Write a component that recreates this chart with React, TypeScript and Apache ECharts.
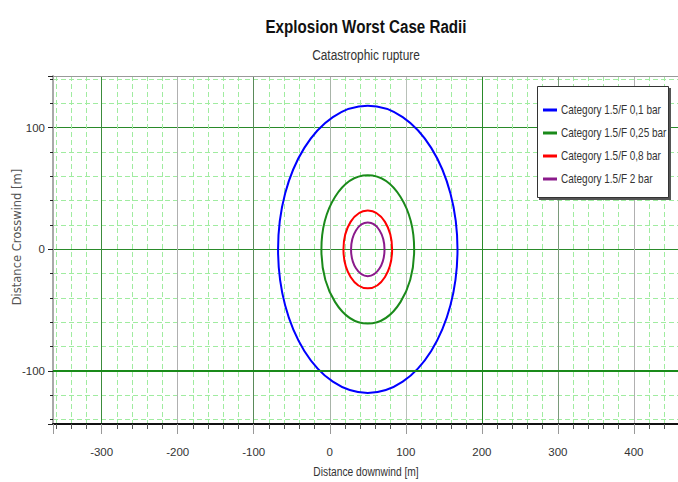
import React, { useEffect, useRef } from 'react';
import * as echarts from 'echarts';

// ---- data ----
const seriesNames = [
  'Category 1.5/F 0,1 bar',
  'Category 1.5/F 0,25 bar',
  'Category 1.5/F 0,8 bar',
  'Category 1.5/F 2 bar',
];
const centerX = [50, 50, 50, 50];
const centerY = [0, 0, 0, 0];
const radii = [118, 61, 32, 22];
const xTickLabels = [-300, -200, -100, 0, 100, 200, 300, 400];
const yTickLabels = [-100, 0, 100];
const xRange = [-364, 458];
const yRange = [-143.5, 142.5];

// ---- styles ----
const COLORS = ['#0000ff', '#1a8a1a', '#ff0000', '#8b1a8b'];
const SANS = "'Liberation Sans', Arial, sans-serif";
const NARROW_SCALE = 0.82;
const T = 'rgba(0,0,0,0)';
const MAJOR_X_COLORS = [T, '#3c8c3c', '#b0b0b0', '#5a8a5a', '#a8b4a8', '#b8c0b8', '#2a8a2a', '#7a9a7a', '#b0b0b0', T];
const MAJOR_Y_COLORS = [T, '#2a8a2a', '#2a8a2a', '#2a8a2a', T];
const MINOR_COLOR = '#a0eca0';

const fmt = (list: number[]) => (v: number) => {
  const r = Math.round(v);
  return Math.abs(v - r) < 1e-6 && list.includes(r) ? String(r) : '';
};

export default function App() {
  const ref = useRef<HTMLDivElement>(null);
  useEffect(() => {
    if (!ref.current) return;
    const chart = echarts.init(ref.current, null, { renderer: 'svg' });

    const circleSeries = seriesNames.map((name, i) => ({
      type: 'custom',
      name,
      xAxisIndex: 0,
      yAxisIndex: 0,
      clip: true,
      z: 3,
      silent: true,
      itemStyle: { color: COLORS[i] },
      encode: { x: 0, y: 1 },
      data: [[centerX[i], centerY[i], radii[i]]],
      renderItem: (params: any, api: any) => {
        const c = api.coord([api.value(0), api.value(1)]);
        const s = api.size([api.value(2), api.value(2)]);
        return {
          type: 'ellipse',
          shape: { cx: c[0], cy: c[1], rx: s[0], ry: s[1] },
          style: { fill: 'none', stroke: COLORS[i], lineWidth: 2 },
        };
      },
    }));

    // legend drawn as graphic (box + swatches + narrow text)
    const legendItems: any[] = [];
    seriesNames.forEach((n, i) => {
      const y = 110 + i * 23;
      legendItems.push({
        type: 'line', z: 22, silent: true,
        shape: { x1: 543, y1: y, x2: 557, y2: y },
        style: { stroke: COLORS[i], lineWidth: 3 },
      });
      legendItems.push({
        type: 'text', z: 22, silent: true, x: 561, y: y, scaleX: 0.8,
        style: { text: n, align: 'left', verticalAlign: 'middle', font: `12.5px ${SANS}`, fill: '#333' },
      });
    });

    const option: any = {
      animation: false,
      backgroundColor: '#ffffff',
      grid: { left: 53, top: 76, right: 0, bottom: 58, containLabel: false, outerBoundsMode: 'none' },
      graphic: [
        {
          type: 'text', x: 366, y: 27, z: 10, scaleX: NARROW_SCALE,
          style: { text: 'Explosion Worst Case Radii', align: 'center', verticalAlign: 'middle', font: `bold 18.5px ${SANS}`, fill: '#111' },
        },
        {
          type: 'text', x: 366, y: 55, z: 10, scaleX: NARROW_SCALE,
          style: { text: 'Catastrophic rupture', align: 'center', verticalAlign: 'middle', font: `14.5px ${SANS}`, fill: '#333' },
        },
        {
          type: 'text', x: 366, y: 472, z: 10, scaleX: NARROW_SCALE,
          style: { text: 'Distance downwind [m]', align: 'center', verticalAlign: 'middle', font: `12.5px ${SANS}`, fill: '#333' },
        },
        {
          type: 'text', x: 17, y: 237, rotation: Math.PI / 2, z: 10,
          style: { text: 'Distance Crosswind [m]', align: 'center', verticalAlign: 'middle', font: "11.5px 'DejaVu Sans', sans-serif", fill: '#555' },
        },
        {
          type: 'rect', z: 20, silent: true, shape: { x: 539, y: 88, width: 132, height: 112 },
          style: { fill: '#555' },
        },
        {
          type: 'rect', z: 21, silent: true, shape: { x: 537.5, y: 86.5, width: 131, height: 111 },
          style: { fill: '#ffffff', stroke: '#333', lineWidth: 1 },
        },
        ...legendItems,
      ],
      xAxis: [
        {
          type: 'value', position: 'bottom', min: xRange[0], max: xRange[1],
          minInterval: 20, maxInterval: 20, splitNumber: 40,
          axisLine: { show: true, onZero: false, lineStyle: { color: '#111', width: 2 } },
          axisTick: { show: true, length: 5, lineStyle: { color: '#555' } },
          axisLabel: { margin: 22, color: '#333', fontFamily: SANS, fontSize: 11.5, formatter: fmt(xTickLabels) },
          splitLine: { show: true, lineStyle: { color: MINOR_COLOR, type: [5, 3], width: 1 } },
        },
        {
          type: 'value', position: 'bottom', min: xRange[0], max: xRange[1],
          minInterval: 100, maxInterval: 100, splitNumber: 8,
          axisLine: { show: false, onZero: false },
          axisTick: { show: true, length: 10, lineStyle: { color: '#999' } },
          axisLabel: { show: false },
          splitLine: { show: true, lineStyle: { color: MAJOR_X_COLORS, width: 1 } },
        },
        {
          type: 'value', position: 'top', min: xRange[0], max: xRange[1],
          axisLine: { show: true, onZero: false, lineStyle: { color: '#999', width: 1 } },
          axisTick: { show: false }, axisLabel: { show: false }, splitLine: { show: false },
        },
      ],
      yAxis: [
        {
          type: 'value', position: 'left', min: yRange[0], max: yRange[1],
          minInterval: 20, maxInterval: 20, splitNumber: 14,
          axisLine: { show: true, onZero: false, lineStyle: { color: '#aaa', width: 2 } },
          axisTick: { show: true, length: 3, lineStyle: { color: '#222' } },
          axisLabel: { margin: 8, color: '#333', fontFamily: SANS, fontSize: 11.5, formatter: fmt(yTickLabels) },
          splitLine: { show: true, lineStyle: { color: MINOR_COLOR, type: [5, 3], width: 1 } },
        },
        {
          type: 'value', position: 'left', min: yRange[0], max: yRange[1],
          minInterval: 100, maxInterval: 100, splitNumber: 3,
          axisLine: { show: false, onZero: false },
          axisTick: { show: true, length: 5, lineStyle: { color: '#222' } },
          axisLabel: { show: false },
          splitLine: { show: true, lineStyle: { color: MAJOR_Y_COLORS, width: 1 } },
        },
      ],
      series: [
        {
          type: 'line', name: '_grid', xAxisIndex: 0, yAxisIndex: 0, data: [], silent: true, z: 1,
          markLine: {
            silent: true, symbol: 'none', label: { show: false },
            lineStyle: { color: '#1a8a1a', width: 2, type: 'solid' },
            data: [{ yAxis: yTickLabels[0] }],
          },
        },
        ...circleSeries,
      ],
    };
    chart.setOption(option);
    return () => chart.dispose();
  }, []);
  return <div ref={ref} style={{ position: 'absolute', left: 0, top: 0, width: 678, height: 482 }} />;
}
